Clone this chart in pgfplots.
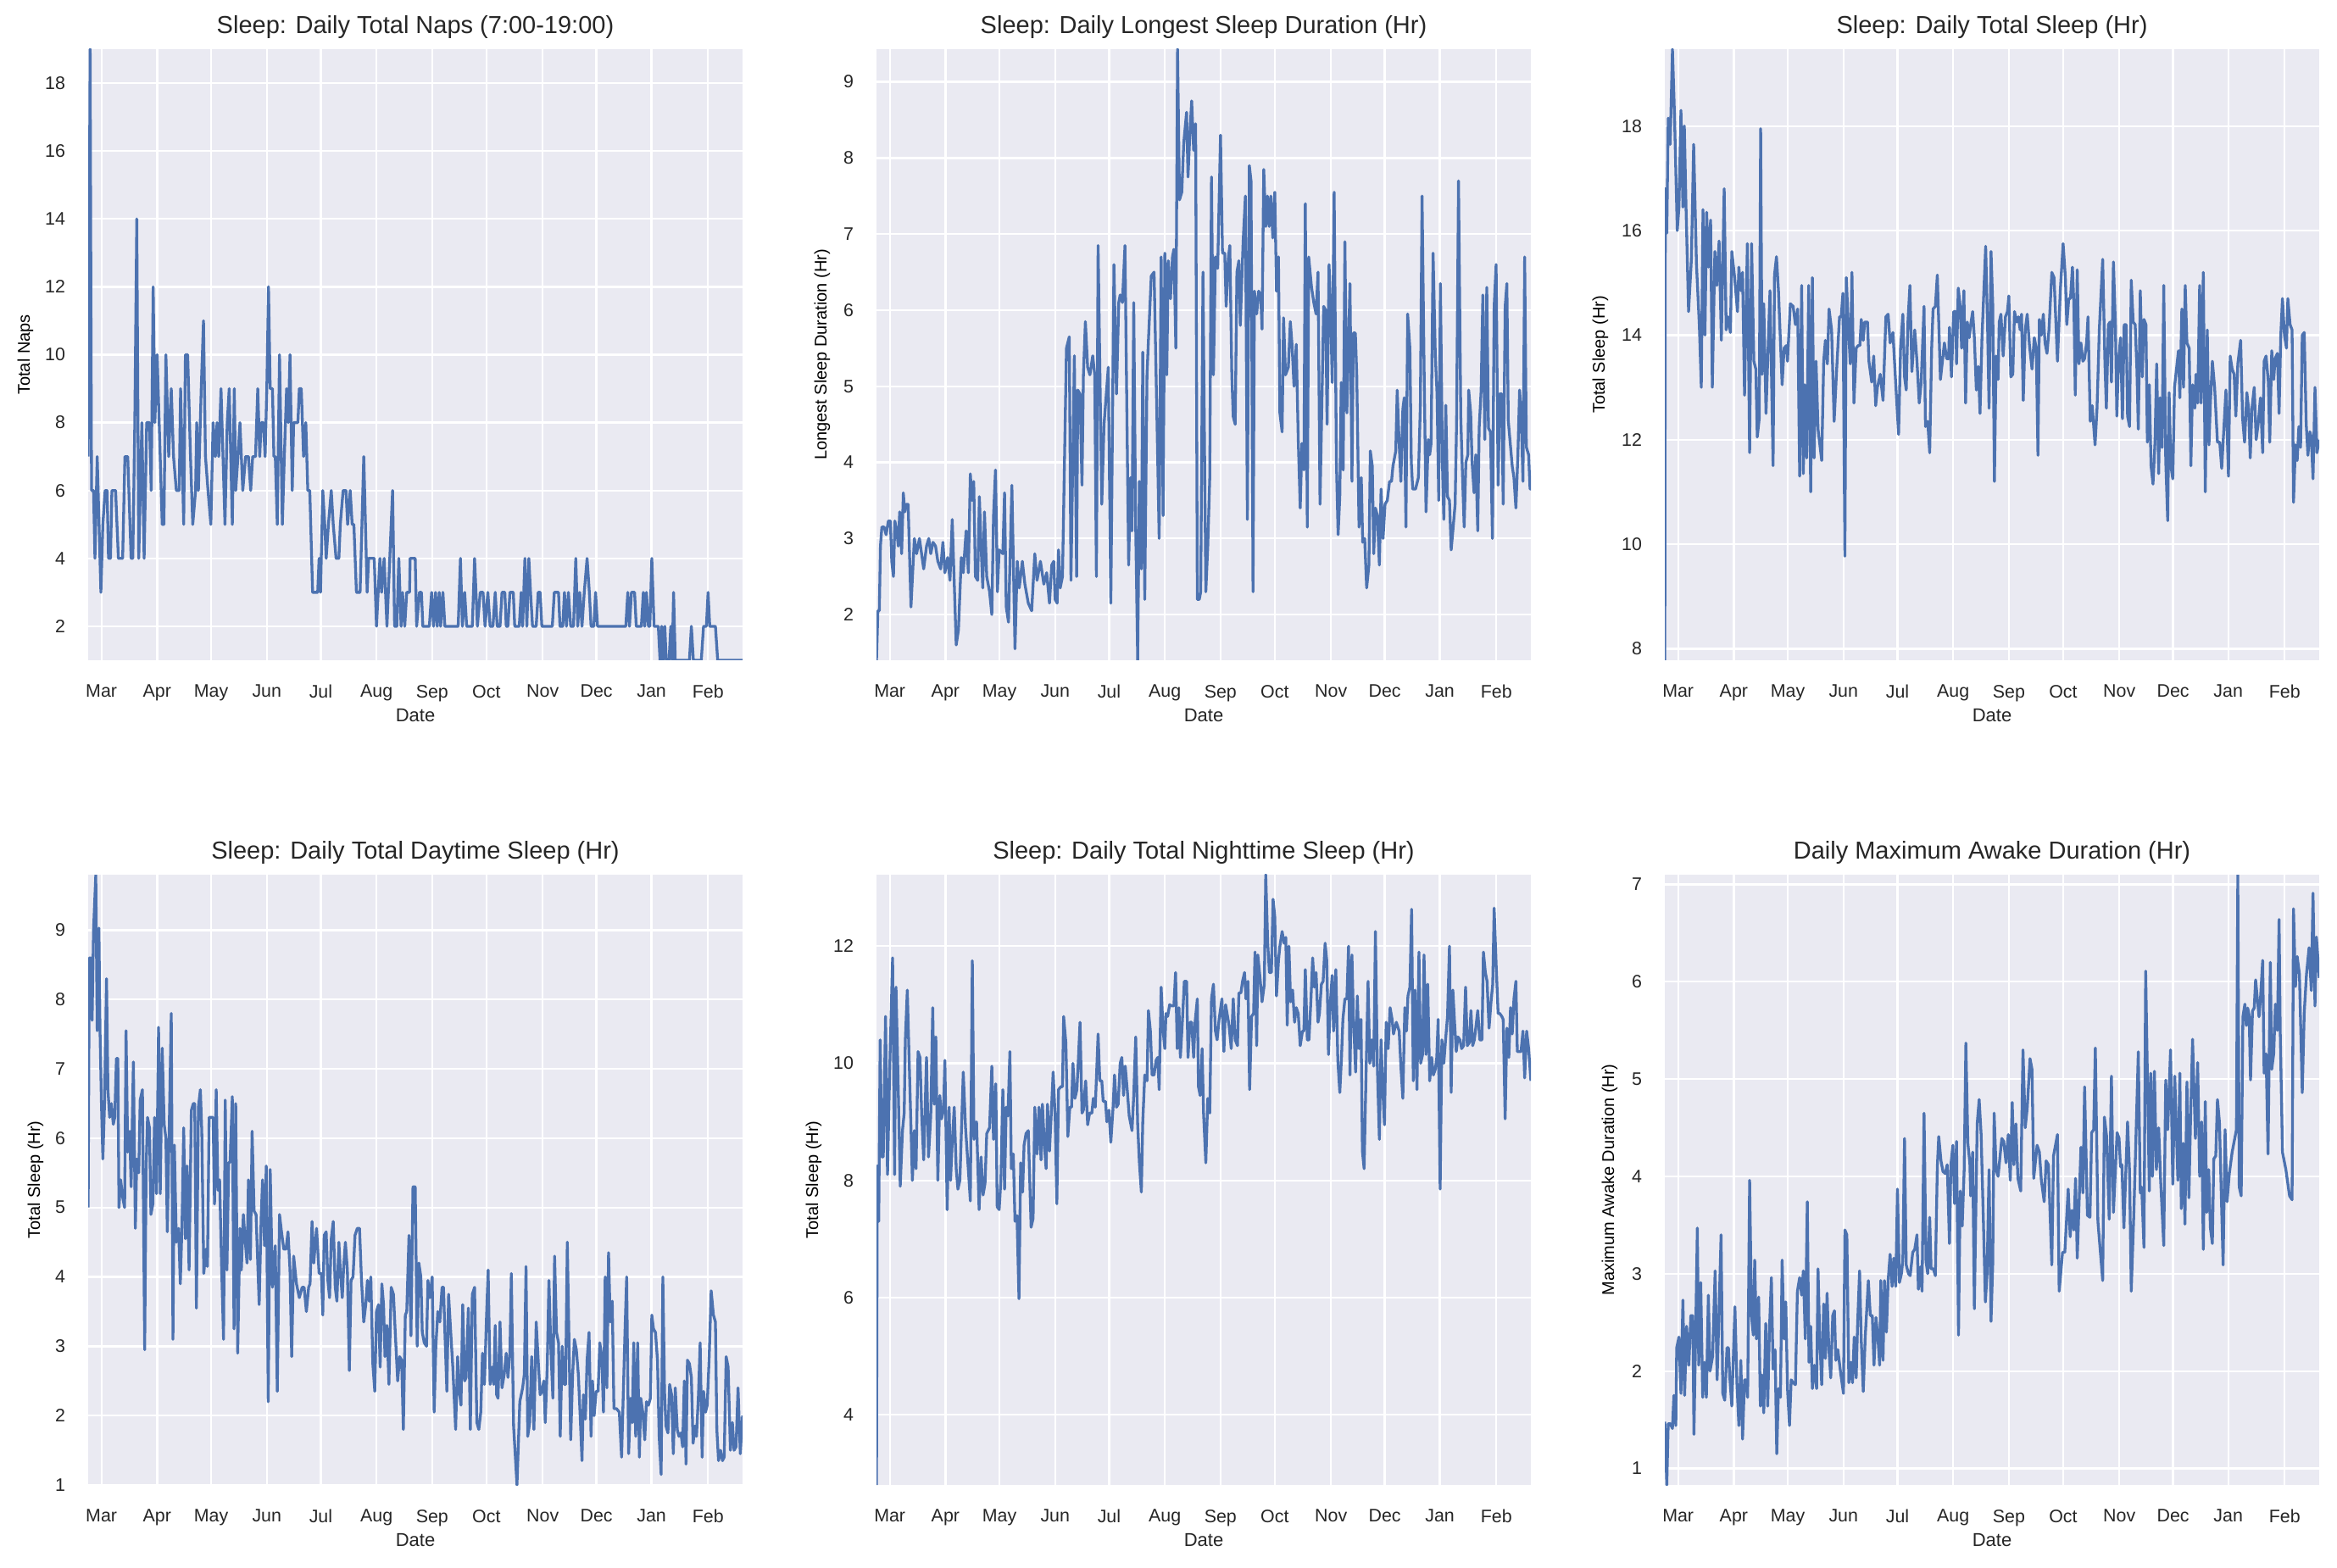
\documentclass[border=0pt]{standalone}
\usepackage{fontspec}
\setmainfont{Liberation Sans}
\usepackage{pgfplots}
\pgfplotsset{compat=1.18}
\definecolor{sbbg}{HTML}{EAEAF2}
\definecolor{sbblue}{HTML}{4C72B0}
\definecolor{sbtext}{HTML}{262626}
\tikzset{sbline/.style={draw=sbblue, line width=1.65pt, line join=round, mark=none}}
\pgfplotsset{
  yl/.style={every axis y label/.style={at={(axis description cs:0,0.5)}, xshift=-#1, rotate=90, anchor=center}},
  sb/.style={
    every axis title/.style={at={(axis description cs:0.5,1)}, yshift=13pt, anchor=center},
    every axis x label/.style={at={(axis description cs:0.5,0)}, yshift=-32.5pt, anchor=center},
    scale only axis, width=386pt, height=360.5pt,
    axis background/.style={fill=sbbg},
    axis line style={draw=none},
    major tick length=0pt,
    grid=major,
    major grid style={white, line width=1.15pt},
    xmin=28, xmax=2343,
    xtick={75,272,463,660,851,1048,1245,1437,1636,1826,2021,2221},
    xticklabels={Mar,Apr,May,Jun,Jul,Aug,Sep,Oct,Nov,Dec,Jan,Feb},
    /pgf/number format/assume math mode=true,
    tick label style={font=\fontsize{10.7}{12}\selectfont, text=sbtext},
    xticklabel style={yshift=-11pt},
    yticklabel style={xshift=-10pt},
    label style={font=\fontsize{11}{13}\selectfont, text=sbtext},
    title style={font=\fontsize{14.5}{17}\selectfont, text=sbtext},
    xlabel=Date,
  },
}
\begin{document}
\begin{tikzpicture}
% ---------------- Panel 1 ----------------
\begin{axis}[sb, at={(52pt,535pt)}, anchor=south west, ymin=1, ymax=19, ytick={2,4,...,18},
  title={Sleep: Daily Total Naps (7:00-19:00)}, ylabel={Total Naps}, yl=37pt]
\addplot[sbline] coordinates {(28,7)(35,19)(40,6)(47,6)(52,4)(60,7)(73,3)(80,5)(88,6)(95,6)(100,4)(107,4)(112,6)(125,6)(135,4)(150,4)(158,7)(168,7)(180,4)(186,4)(193,8)(200,14)(207,4)(218,8)(226,4)(235,8)(245,8)(251,6)(258,12)(264,8)(272,10)(290,5)(296,5)(303,10)(313,7)(322,9)(330,7)(340,6)(350,6)(355,9)(366,5)(372,10)(380,10)(390,7)(398,5)(408,6)(412,8)(418,6)(428,9)(436,11)(443,7)(452,6)(462,5)(470,8)(478,7)(484,8)(490,7)(498,9)(512,5)(520,8)(527,9)(538,5)(545,9)(550,6)(558,7)(565,8)(575,6)(585,7)(595,7)(603,6)(610,7)(620,7)(628,9)(635,7)(640,8)(648,8)(654,7)(660,9)(666,12)(672,9)(680,9)(685,7)(690,7)(697,5)(705,10)(715,5)(722,7)(730,9)(736,8)(742,10)(750,6)(755,8)(770,8)(775,9)(782,9)(790,7)(798,8)(805,6)(812,6)(822,3)(840,3)(845,4)(850,3)(858,6)(865,5)(870,4)(878,5)(888,6)(895,5)(905,4)(915,4)(920,5)(930,6)(940,6)(946,5)(955,6)(962,5)(968,5)(977,3)(990,3)(1003,7)(1015,3)(1020,4)(1040,4)(1048,2)(1060,4)(1066,3)(1075,4)(1085,2)(1105,6)(1112,2)(1120,2)(1127,4)(1135,2)(1140,3)(1148,2)
(1155,3)(1165,3)(1167,4)(1185,4)(1190,2)(1200,3)(1207,3)(1212,2)(1235,2)(1243,3)(1250,2)(1257,3)(1263,2)(1270,3)(1275,2)(1283,3)(1290,2)(1337,2)(1345,4)(1352,2)(1360,3)(1367,2)(1387,2)(1395,4)(1405,2)(1415,3)(1425,3)(1432,2)(1442,3)(1450,2)(1460,2)(1468,3)(1475,2)(1485,2)(1492,3)(1502,3)(1507,2)(1513,2)(1520,3)(1532,3)(1537,2)(1553,2)(1560,3)(1565,2)(1573,4)(1580,2)(1587,4)(1593,3)(1600,2)(1613,2)(1620,3)(1627,3)(1633,2)(1670,2)(1677,3)(1692,3)(1697,2)(1707,2)(1713,3)(1720,2)(1727,3)(1735,2)(1745,2)(1753,4)(1760,2)(1767,3)(1775,2)(1783,3)(1793,4)(1801,3)(1807,2)(1817,2)(1823,3)(1830,2)(1930,2)(1937,3)(1943,2)(1950,3)(1961,3)(1967,2)(1985,2)(1992,3)(1997,2)(2003,3)(2010,2)(2015,2)(2022,4)(2030,2)(2045,2)(2051,1)(2057,2)(2062,1)(2068,2)(2073,1)(2083,1)(2089,2)(2094,1)(2099,3)(2105,1)(2155,1)(2162,2)(2169,1)(2197,1)(2205,2)(2215,2)(2221,3)(2227,2)(2247,2)(2255,1)(2343,1)};
\end{axis}
% ---------------- Panel 2 ----------------
\begin{axis}[sb, at={(517pt,535pt)}, anchor=south west, ymin=1.4, ymax=9.43, ytick={2,3,...,9},
  title={Sleep: Daily Longest Sleep Duration (Hr)}, ylabel={Longest Sleep Duration (Hr)}, yl=32pt]
\addplot[sbline] coordinates {(28,1.4)(33,2.05)(38,2.05)(42,2.9)(47,3.15)(55,3.15)(62,3.05)(70,3.23)(77,3.23)(82,2.7)(88,2.5)(93,3.23)(100,3.1)(105,2.9)(110,3.35)(117,2.8)(123,3.6)(128,3.35)(133,3.45)(140,3.45)(150,2.1)(162,3.0)(170,2.8)(180,3.0)(195,2.6)(205,2.9)(213,3.0)(220,2.8)(228,2.95)(237,2.9)(245,2.7)(255,2.6)(263,2.95)(270,2.55)(280,2.75)(288,2.45)(296,3.25)(310,1.6)(318,1.8)(328,2.75)(335,2.55)(345,3.1)(353,2.55)(360,3.85)(366,3.5)(372,3.75)(378,2.5)(386,2.45)(392,3.55)(398,2.9)(404,2.35)(410,3.35)(418,2.5)(428,2.3)(436,2.0)(442,3.3)(449,3.9)(456,2.3)(462,2.85)(475,2.8)(481,3.6)(487,2.1)(495,1.9)(507,3.7)(518,1.55)(526,2.7)(533,2.35)(544,2.7)(553,2.4)(565,2.15)(577,2.05)(588,2.8)(596,2.45)(608,2.7)(620,2.4)(630,2.55)(640,2.15)(648,2.65)(655,2.7)(660,2.2)(667,2.15)(672,2.85)(678,2.35)(686,2.5)(700,5.5)(710,5.65)(716,2.45)(728,5.4)(736,2.5)(740,4.95)(748,4.9)(755,3.7)(760,5.15)(767,5.85)(775,5.25)(783,5.15)(793,5.4)(800,5.15)(806,2.5)(812,6.85)(825,3.45)(833,4.5)(848,5.25)(857,2.15)(868,6.6)(877,4.9)(885,6.1)(890,6.2)(898,6.1)(907,6.85)(920,2.65)(927,3.8)(932,3.1)(938,6.1)(945,3.15)(952,1.4)(958,3.75)(965,2.6)(970,5.45)(977,2.2)(985,5.15)(990,5.6)(1000,6.45)(1010,6.5)(1020,4.6)(1028,3.0)(1035,6.7)(1042,3.3)(1048,6.75)(1055,5.15)(1060,6.65)(1068,6.15)(1075,6.7)(1080,6.8)(1087,5.5)(1093,9.43)(1100,7.45)(1108,7.55)(1115,8.2)(1125,8.6)(1130,7.75)(1137,8.35)(1143,8.75)(1150,8.1)
(1157,8.45)(1163,2.2)(1170,2.2)(1175,2.3)(1183,6.5)(1193,2.3)(1200,2.9)(1207,3.8)(1213,7.75)(1220,5.15)(1227,6.7)(1235,6.55)(1245,8.3)(1252,6.75)(1260,6.75)(1265,6.05)(1273,6.7)(1278,6.85)(1285,5.15)(1290,4.6)(1297,4.5)(1303,6.5)(1310,6.65)(1315,5.8)(1325,6.9)(1333,7.5)(1340,3.25)(1347,7.9)(1353,7.7)(1360,2.3)(1365,6.25)(1373,5.95)(1380,6.25)(1387,6.2)(1392,5.75)(1398,7.85)(1405,7.1)(1411,7.5)(1417,7.1)(1423,7.5)(1430,6.95)(1437,7.55)(1443,6.25)(1450,6.7)(1455,4.65)(1463,4.4)(1468,5.9)(1475,5.15)(1485,5.25)(1492,5.85)(1498,5.55)(1505,5.0)(1513,5.55)(1520,4.3)(1527,3.4)(1533,4.25)(1540,3.9)(1545,7.4)(1552,3.15)(1557,6.7)(1567,6.3)(1575,6.1)(1583,5.95)(1590,6.5)(1597,3.45)(1610,6.05)(1617,6.0)(1622,4.5)(1629,6.6)(1635,5.95)(1640,5.05)(1647,7.55)(1655,4.0)(1661,3.05)(1667,3.55)(1672,5.05)(1679,3.9)(1685,6.9)(1692,4.65)(1697,5.4)(1703,6.35)(1710,3.75)(1715,5.7)(1722,5.7)(1727,5.15)(1735,3.15)(1743,3.8)(1748,2.95)(1755,3.0)(1762,2.35)(1770,2.65)(1775,4.15)(1782,3.95)(1787,2.8)(1793,3.4)(1800,3.3)(1807,2.65)(1813,3.65)(1820,3.0)(1827,3.45)(1835,3.5)(1843,3.75)(1850,3.75)(1855,3.95)(1865,4.15)(1870,4.95)(1877,4.25)(1883,3.75)(1890,4.7)(1895,4.85)(1901,3.15)(1907,5.95)(1915,5.5)(1920,4.0)(1925,3.65)(1935,3.65)(1945,3.8)(1952,4.75)(1958,7.5)(1965,5.3)(1972,3.35)(1980,4.3)(1985,4.1)(1990,4.25)(1997,6.75)(2005,5.4)(2011,4.9)(2017,3.5)(2023,6.35)(2030,4.0)(2035,3.25)(2042,4.75)(2048,3.55)(2055,3.5)(2061,2.85)(2067,3.1)(2075,3.45)(2080,4.5)(2087,7.7)(2095,4.6)(2100,3.95)(2107,3.15)(2113,4.0)(2120,4.1)(2123,4.95)(2130,4.65)(2135,4.0)(2142,3.6)(2148,4.1)(2155,3.1)(2160,4.45)(2167,4.95)(2173,6.2)(2180,4.3)(2187,6.3)(2193,4.45)(2200,4.4)(2207,3.0)(2213,6.05)(2220,6.6)(2227,3.7)(2233,4.9)(2240,4.9)(2245,3.45)(2252,6.05)(2258,6.35)(2263,4.55)(2270,4.25)(2277,3.95)(2283,3.8)(2290,3.4)(2297,4.1)(2303,4.95)(2308,4.7)(2315,3.75)(2321,6.7)(2327,4.2)(2335,4.1)(2340,3.65)(2343,3.65)};
\end{axis}
% ---------------- Panel 3 ----------------
\begin{axis}[sb, at={(982pt,535pt)}, anchor=south west, ymin=7.78, ymax=19.47, ytick={8,10,...,18},
  title={Sleep: Daily Total Sleep (Hr)}, ylabel={Total Sleep (Hr)}, yl=38pt]
\addplot[sbline] coordinates {(28,7.78)(30,16.8)(35,15.95)(40,18.15)(47,17.65)(55,19.47)(62,18.25)(72,16.0)(78,16.45)(85,18.3)(92,16.45)(97,18.0)(103,16.45)(112,14.45)(122,15.45)(130,17.65)(140,15.35)(150,14.2)(157,13.0)(163,16.4)(170,14.0)(176,16.35)(182,15.3)(190,16.2)(196,13.0)(205,15.6)(212,14.95)(220,15.8)(228,13.9)(238,16.8)(245,14.1)(252,14.35)(260,14.05)(265,15.6)(275,15.1)(285,14.45)(290,15.3)(297,14.85)(303,15.2)(310,12.85)(320,15.75)(328,11.75)(335,15.75)(343,13.5)(350,13.35)(355,12.05)(362,12.4)(367,17.95)(372,13.25)(378,14.6)(386,12.5)(393,13.7)(400,14.85)(405,13.35)(411,11.5)(416,15.15)(423,15.5)(430,14.85)(443,13.05)(450,13.75)(458,13.8)(462,13.5)(472,14.6)(482,14.55)(490,14.2)(498,14.5)(505,11.3)(512,14.95)(518,11.35)(523,13.05)(530,11.65)(537,14.95)(544,11.0)(550,15.1)(556,11.65)(563,13.5)(570,12.2)(583,11.6)(590,13.5)(596,13.9)(603,13.45)(609,14.5)(618,14.1)(627,12.35)(636,13.35)(646,14.35)(652,14.35)(658,14.8)(665,9.77)(670,15.1)(677,14.2)(684,13.45)(690,15.2)(697,12.7)(705,13.75)(712,13.8)(718,13.8)(723,14.3)(730,13.9)(735,14.25)(745,14.25)(750,13.5)(760,13.1)(767,13.6)(774,12.65)(780,13.0)(790,13.25)(800,12.75)(810,14.35)(818,14.4)(825,13.85)(835,14.05)(845,13.05)(855,12.1)(862,13.75)(870,14.4)(876,13.2)(882,12.95)(888,14.25)(895,14.95)(902,13.3)(912,14.1)(920,13.5)(928,12.7)(935,13.1)(945,14.55)(950,12.25)(958,12.35)(965,11.75)(972,13.75)(977,14.5)(985,14.55)(992,15.15)(1003,13.15)(1010,13.5)(1017,13.85)(1025,13.55)(1032,13.55)(1035,14.15)(1042,13.2)(1050,14.45)(1057,14.45)(1060,13.45)(1066,14.9)(1073,14.55)(1078,13.75)(1086,14.85)(1092,12.7)(1098,14.25)(1105,13.95)(1110,14.2)(1117,14.45)(1123,13.95)(1130,12.95)(1137,13.4)(1143,12.5)(1150,13.95)
(1163,15.7)(1170,14.1)(1175,12.6)(1182,15.6)(1188,14.6)(1194,11.2)(1200,13.6)(1207,13.15)(1211,14.25)(1217,14.4)(1225,13.6)(1233,14.35)(1240,14.45)(1245,14.75)(1252,13.2)(1259,13.25)(1265,14.45)(1273,14.25)(1279,14.35)(1285,14.1)(1290,14.4)(1296,12.75)(1303,14.1)(1310,14.4)(1318,13.8)(1327,13.35)(1335,13.95)(1342,13.75)(1348,11.7)(1353,14.3)(1360,14.0)(1367,14.4)(1373,13.85)(1380,13.65)(1387,14.1)(1397,15.2)(1405,15.1)(1417,13.5)(1427,14.85)(1437,15.75)(1445,15.1)(1450,14.2)(1457,14.7)(1463,14.7)(1470,15.3)(1475,14.6)(1480,12.85)(1487,15.25)(1493,13.45)(1500,13.85)(1507,13.5)(1513,13.55)(1520,13.85)(1525,14.35)(1533,12.35)(1540,12.65)(1550,11.9)(1557,12.6)(1565,14.1)(1577,15.45)(1585,13.45)(1590,12.6)(1597,14.2)(1603,14.25)(1608,13.1)(1615,15.4)(1622,14.2)(1627,12.45)(1633,13.5)(1640,13.95)(1647,12.4)(1653,14.2)(1660,14.2)(1665,12.45)(1672,12.25)(1678,15.05)(1685,14.25)(1692,14.2)(1698,13.35)(1703,12.2)(1710,14.85)(1717,13.2)(1723,14.3)(1730,14.2)(1735,11.95)(1742,13.05)(1748,11.5)(1755,11.15)(1762,11.95)(1768,13.45)(1775,11.35)(1780,12.8)(1787,11.85)(1793,14.95)(1800,11.6)(1807,10.45)(1812,12.9)(1818,11.5)(1825,11.25)(1831,13.0)(1838,13.35)(1845,13.7)(1850,12.8)(1857,14.5)(1863,13.0)(1869,14.95)(1875,13.85)(1883,13.75)(1889,11.5)(1895,13.05)(1903,12.6)(1907,13.25)(1913,12.7)(1920,14.95)(1925,12.7)(1933,15.2)(1940,11.0)(1947,14.1)(1953,11.9)(1958,12.7)(1965,13.5)(1973,13.0)(1983,11.95)(1991,11.95)(1998,11.45)(2005,12.15)(2013,12.95)(2022,11.3)(2028,13.6)(2035,13.35)(2042,13.25)(2048,12.45)(2055,13.45)(2065,13.9)(2072,12.4)(2079,11.95)(2087,12.9)(2093,12.6)(2099,11.65)(2105,12.6)(2113,13.0)(2120,12.0)(2127,12.3)(2135,12.8)(2143,11.75)(2148,13.5)(2155,13.6)(2163,13.1)(2168,11.95)(2175,13.7)(2182,13.15)(2187,13.55)(2195,13.65)(2201,12.5)(2207,14.0)(2213,14.7)(2220,14.0)(2227,13.75)(2232,14.7)(2240,14.2)(2247,14.1)(2252,10.8)(2259,11.9)(2265,11.6)(2271,12.25)(2277,11.85)(2283,14.0)(2290,14.05)(2297,12.3)(2303,11.7)(2310,12.15)(2315,12.05)(2321,11.25)(2328,13.0)(2335,11.75)(2343,12.0)};
\end{axis}
% ---------------- Panel 4 ----------------
\begin{axis}[sb, height=360pt, at={(52pt,48.5pt)}, anchor=south west, ymin=1, ymax=9.8, ytick={1,2,...,9},
  title={Sleep: Daily Total Daytime Sleep (Hr)}, ylabel={Total Sleep (Hr)}, yl=31pt]
\addplot[sbline] coordinates {(28,5.0)(32,8.6)(38,8.6)(42,7.7)(47,9.0)(55,9.8)(60,7.55)(66,9.03)(70,7.55)(75,6.5)(80,5.7)(86,6.5)(93,8.3)(98,6.7)(104,6.3)(110,6.5)(117,6.2)(122,6.3)(128,7.15)(133,7.15)(137,5.0)(143,5.4)(150,5.15)(157,5.0)(162,7.55)(168,5.8)(175,6.1)(180,5.3)(188,7.1)(195,4.7)(200,5.7)(207,5.5)(212,6.55)(220,6.7)(228,2.95)(233,5.55)(238,6.3)(245,6.15)(250,4.9)(257,5.05)(263,6.3)(270,5.2)(277,7.6)(283,5.2)(290,7.3)(297,6.2)(303,6.0)(308,4.65)(315,6.2)(322,7.8)(328,3.1)(333,5.9)(340,4.5)(348,4.7)(354,3.9)(360,4.75)(366,6.15)(372,4.55)(378,5.6)(385,4.1)(393,6.4)(400,6.5)(405,6.5)(411,3.55)(418,6.45)(425,6.7)(430,6.1)(437,4.05)(445,4.4)(450,4.15)(456,6.3)(463,6.3)(470,6.3)(475,5.05)(481,6.7)(487,5.25)(493,5.4)(500,4.15)(507,3.1)(513,6.55)(519,4.1)(525,5.65)(530,5.65)(538,6.6)(544,3.25)(550,6.5)(557,2.9)(565,4.7)(570,4.1)(577,4.9)(583,4.55)(590,4.2)(595,5.4)(602,4.25)(608,6.1)(615,4.95)(622,4.9)(633,3.6)(640,4.85)(645,5.4)(652,4.45)(658,5.6)(665,2.2)(672,5.55)(680,3.85)(690,4.45)(697,2.35)(705,4.9)(712,4.65)(720,4.4)(728,4.4)(735,4.65)(742,4.1)(748,2.85)(755,4.3)(765,3.9)(775,3.7)(785,3.85)(792,3.85)(800,3.5)(808,3.85)(813,3.9)(820,4.8)(826,4.2)(836,4.7)(845,4.05)(853,4.05)(858,3.45)(863,4.6)(870,4.65)(876,3.95)(882,3.7)(888,4.55)(895,4.8)(902,3.85)(908,3.65)(915,4.5)(920,4.1)(927,3.7)(932,4.15)(938,4.5)(945,4.1)(952,2.65)(958,3.95)(965,4.0)(972,4.6)(980,4.7)(988,4.7)(995,3.95)(1003,3.35)(1010,3.6)(1016,3.95)(1022,3.65)(1028,4.0)(1035,2.75)(1042,2.35)(1048,3.5)(1055,3.6)(1061,2.7)(1067,3.9)(1073,3.6)(1078,2.85)(1085,3.3)(1092,2.45)(1100,3.85)(1108,3.75)(1115,3.15)(1123,2.5)(1130,2.85)(1137,2.8)(1143,1.8)(1150,3.45)
(1155,3.5)(1163,4.6)(1170,3.15)(1177,5.3)(1185,5.3)(1192,3.0)(1198,4.2)(1205,4.0)(1210,3.2)(1217,3.05)(1225,3.0)(1230,3.95)(1237,3.7)(1245,4.0)(1252,2.05)(1258,3.0)(1265,3.5)(1272,3.35)(1280,3.85)(1285,3.85)(1290,3.2)(1297,2.35)(1303,3.75)(1310,3.25)(1318,2.7)(1328,1.8)(1335,2.85)(1341,2.35)(1347,2.15)(1353,3.6)(1360,2.5)(1365,2.55)(1373,3.55)(1380,1.8)(1387,3.75)(1395,3.85)(1403,1.9)(1410,1.8)(1417,2.05)(1423,2.9)(1430,2.45)(1437,3.4)(1443,4.1)(1450,2.45)(1457,2.7)(1463,2.45)(1468,3.3)(1473,2.3)(1478,2.25)(1485,3.35)(1492,2.4)(1500,2.6)(1507,2.9)(1513,2.55)(1520,2.9)(1525,4.05)(1533,1.85)(1540,1.35)(1545,1.0)(1555,2.2)(1565,2.4)(1571,2.6)(1577,4.15)(1583,1.7)(1590,1.9)(1597,2.85)(1605,1.8)(1613,3.35)(1620,2.8)(1627,2.3)(1633,2.35)(1640,2.5)(1645,1.9)(1652,2.7)(1658,3.95)(1665,2.95)(1672,2.25)(1678,4.3)(1685,3.2)(1692,3.05)(1698,1.7)(1705,3.0)(1712,2.45)(1717,2.45)(1723,4.5)(1730,2.85)(1735,1.65)(1742,2.6)(1748,3.1)(1755,2.95)(1762,2.6)(1768,2.05)(1775,1.35)(1780,2.3)(1787,1.95)(1793,2.8)(1800,3.2)(1807,1.7)(1812,2.5)(1818,2.0)(1825,2.35)(1832,2.35)(1838,3.05)(1845,2.85)(1851,2.05)(1857,4.0)(1863,2.4)(1869,4.35)(1875,3.35)(1882,3.65)(1888,2.1)(1897,2.1)(1907,2.05)(1915,1.4)(1920,2.15)(1927,3.2)(1933,4.0)(1940,1.45)(1947,2.25)(1953,1.9)(1958,3.05)(1965,1.7)(1972,3.05)(1978,1.4)(1983,2.25)(1990,2.05)(1997,1.65)(2003,2.2)(2010,2.15)(2017,2.25)(2022,3.45)(2028,3.25)(2035,3.2)(2042,2.8)(2048,1.7)(2055,1.15)(2061,4.0)(2067,2.35)(2072,1.85)(2079,1.75)(2085,2.45)(2092,2.3)(2098,1.45)(2105,2.4)(2112,1.8)(2118,1.7)(2125,1.75)(2131,1.55)(2137,2.5)(2143,1.3)(2148,2.8)(2155,2.75)(2162,2.55)(2168,1.6)(2175,1.85)(2180,1.7)(2187,2.3)(2193,3.05)(2200,1.4)(2205,2.35)(2212,2.05)(2218,2.15)(2225,2.85)(2232,3.8)(2240,3.45)(2247,3.35)(2252,1.8)(2258,1.35)(2265,1.5)(2272,1.35)(2278,1.4)(2285,2.85)(2292,2.7)(2300,1.5)(2307,1.9)(2313,1.5)(2320,1.55)(2327,2.4)(2335,1.45)(2343,2.0)};
\end{axis}
% ---------------- Panel 5 ----------------
\begin{axis}[sb, height=360pt, at={(517pt,48.5pt)}, anchor=south west, ymin=2.8, ymax=13.22, ytick={4,6,...,12},
  title={Sleep: Daily Total Nighttime Sleep (Hr)}, ylabel={Total Sleep (Hr)}, yl=37pt]
\addplot[sbline] coordinates {(28,2.8)(31,8.25)(36,7.3)(41,10.4)(47,8.4)(52,8.4)(60,10.8)(67,8.1)(75,9.95)(85,11.8)(92,8.1)(97,11.3)(104,9.8)(112,7.9)(120,8.85)(126,9.15)(130,10.4)(137,11.25)(145,9.8)(155,8.0)(162,8.85)(168,8.2)(175,10.2)(182,10.1)(188,9.1)(195,8.35)(205,10.1)(212,8.4)(220,9.1)(227,10.95)(232,9.3)(238,10.45)(245,8.0)(252,9.45)(258,9.05)(265,9.2)(270,10.05)(278,7.5)(285,9.25)(290,8.0)(296,8.65)(303,9.25)(310,8.2)(316,7.85)(323,8.0)(335,9.85)(343,8.9)(352,8.25)(360,7.65)(367,11.75)(373,8.7)(382,9.0)(391,7.5)(398,8.4)(405,7.75)(412,7.95)(418,8.8)(428,8.9)(436,9.95)(442,8.7)(450,9.65)(455,7.55)(462,7.5)(468,8.0)(475,9.55)(481,7.85)(487,9.25)(493,9.1)(500,10.2)(505,8.2)(512,8.45)(518,7.3)(525,7.4)(532,5.98)(538,8.3)(545,7.8)(550,8.6)(557,8.8)(565,8.85)(575,7.2)(582,7.35)(588,9.25)(596,8.45)(603,9.25)(610,8.35)(615,9.3)(622,8.6)(628,8.2)(633,9.3)(640,8.5)(646,9.1)(653,9.85)(660,9.1)(666,7.6)(672,9.55)(680,9.6)(686,9.6)(690,10.8)(698,10.35)(705,8.75)(712,9.25)(718,9.25)(723,10.0)(730,9.4)(737,9.55)(742,10.05)(748,10.7)(755,9.15)(760,9.2)(768,9.7)(775,8.95)(782,9.15)(790,9.15)(795,9.4)(802,9.25)(812,10.5)(818,9.7)(825,9.7)(830,9.35)(838,9.35)(843,9.0)(850,9.2)(857,8.65)(865,9.25)(870,9.8)(877,9.25)(883,9.3)(890,10.0)(896,10.1)(902,9.45)(908,9.95)(915,9.55)(922,9.1)(932,8.85)(938,9.45)(945,10.45)(952,8.95)(958,8.3)(965,7.8)(970,9.0)(977,9.8)(985,9.7)(990,10.9)(997,10.55)(1003,9.8)(1010,9.8)(1017,10.05)(1023,10.1)(1028,9.55)(1035,11.3)(1042,10.55)(1048,10.25)(1052,10.85)(1058,10.8)(1065,11.0)(1073,10.98)(1080,10.98)(1086,11.55)(1092,10.25)(1098,10.95)(1103,10.1)(1110,10.7)(1117,11.4)(1125,11.4)(1130,10.1)(1137,10.7)(1143,10.7)(1150,10.1)
(1155,10.7)(1163,11.1)(1167,9.6)(1173,9.45)(1180,10.25)(1185,9.15)(1193,8.3)(1200,9.4)(1207,9.15)(1213,11.1)(1220,11.35)(1227,10.55)(1233,10.4)(1240,10.75)(1250,11.1)(1257,10.2)(1263,11.0)(1270,10.8)(1275,10.65)(1283,10.25)(1290,11.1)(1297,10.4)(1305,10.3)(1310,11.2)(1317,11.2)(1323,11.4)(1330,11.55)(1335,11.1)(1342,11.4)(1348,9.55)(1355,10.8)(1362,10.85)(1367,11.9)(1373,10.3)(1377,11.85)(1385,11.45)(1392,11.05)(1400,11.35)(1405,13.22)(1412,12.05)(1418,11.55)(1425,11.55)(1431,12.8)(1437,12.5)(1443,11.15)(1450,11.75)(1455,12.0)(1463,12.25)(1470,12.05)(1476,12.15)(1481,10.65)(1487,12.0)(1493,11.05)(1500,11.25)(1507,10.7)(1513,10.95)(1520,10.85)(1527,10.3)(1535,10.55)(1540,10.55)(1545,11.6)(1552,10.4)(1558,10.4)(1565,11.1)(1571,11.8)(1577,11.3)(1583,11.55)(1590,10.7)(1595,10.85)(1602,11.35)(1608,11.4)(1615,12.05)(1621,11.75)(1627,10.15)(1633,11.0)(1640,11.5)(1645,10.55)(1653,11.6)(1660,10.05)(1667,9.5)(1673,10.1)(1678,10.75)(1685,11.1)(1692,11.1)(1698,12.0)(1703,9.8)(1710,11.85)(1715,10.8)(1723,9.85)(1729,11.15)(1735,10.25)(1742,10.75)(1747,8.5)(1753,8.2)(1760,9.85)(1767,11.4)(1773,10.0)(1780,10.4)(1787,9.95)(1793,12.25)(1800,9.9)(1807,8.7)(1813,10.4)(1819,9.55)(1825,8.95)(1831,10.7)(1838,10.25)(1845,10.95)(1852,10.75)(1857,10.5)(1867,10.7)(1877,10.55)(1883,9.95)(1890,9.4)(1897,10.95)(1903,10.55)(1908,11.15)(1915,11.3)(1921,12.63)(1927,9.7)(1933,11.25)(1940,9.55)(1947,11.9)(1953,10.0)(1960,10.15)(1965,11.85)(1972,10.15)(1978,11.35)(1985,9.7)(1992,10.1)(1998,9.8)(2005,9.9)(2010,10.1)(2015,10.75)(2022,7.85)(2028,10.4)(2035,10.0)(2042,10.45)(2048,10.8)(2055,12.0)(2061,9.5)(2067,11.25)(2073,10.7)(2079,10.2)(2085,10.45)(2092,10.4)(2098,10.25)(2105,10.3)(2112,11.3)(2118,10.3)(2125,10.35)(2131,10.9)(2137,10.3)(2143,10.4)(2148,10.6)(2155,10.9)(2162,10.4)(2170,10.4)(2175,11.9)(2182,11.55)(2188,11.4)(2195,10.6)(2202,11.05)(2208,11.35)(2213,12.65)(2220,11.7)(2227,10.85)(2233,10.85)(2240,10.8)(2245,10.75)(2252,9.05)(2258,10.6)(2265,10.1)(2271,10.95)(2277,10.5)(2283,11.1)(2290,11.4)(2295,10.2)(2302,10.2)(2308,10.2)(2315,10.55)(2321,9.75)(2328,10.55)(2335,10.25)(2343,9.7)};
\end{axis}
% ---------------- Panel 6 ----------------
\begin{axis}[sb, height=360pt, at={(982pt,48.5pt)}, anchor=south west, ymin=0.83, ymax=7.1, ytick={1,2,...,7},
  title={Daily Maximum Awake Duration (Hr)}, ylabel={Maximum Awake Duration (Hr)}, yl=32.5pt]
\addplot[sbline] coordinates {(28,1.48)(35,0.83)(40,1.46)(47,1.46)(55,1.41)(60,1.75)(67,1.44)(70,2.24)(78,2.35)(85,1.77)(92,2.73)(98,1.75)(105,2.46)(113,2.06)(120,2.57)(127,2.57)(131,1.35)(137,2.37)(143,3.47)(148,2.06)(155,2.91)(162,1.73)(168,2.09)(175,1.73)(182,2.78)(188,2.0)(197,2.15)(206,3.03)(213,1.91)(220,2.64)(227,3.4)(233,1.77)(240,1.7)(248,2.24)(253,2.24)(258,1.93)(265,1.64)(276,2.66)(283,1.88)(290,1.44)(297,2.11)(303,1.3)(310,1.91)(315,1.91)(321,1.73)(328,3.96)(335,2.55)(341,2.37)(346,3.14)(352,2.33)(360,2.76)(366,1.64)(372,1.96)(378,1.57)(385,2.49)(392,1.64)(398,2.42)(405,2.96)(411,2.02)(418,2.22)(424,1.15)(430,1.82)(437,1.73)(443,3.14)(450,2.33)(456,2.71)(462,1.82)(469,1.44)(475,1.91)(482,1.88)(490,1.86)(497,2.82)(505,2.96)(512,2.78)(518,3.03)(525,2.33)(532,3.74)(538,2.09)(544,2.46)(550,1.82)(557,2.06)(565,1.82)(570,3.05)(576,2.35)(583,1.86)(590,2.69)(596,2.13)(602,2.8)(608,2.24)(615,1.93)(622,2.57)(628,2.62)(633,2.11)(640,2.22)(650,1.98)(660,1.77)(665,3.45)(672,3.4)(679,1.88)(686,2.09)(692,1.88)(698,2.35)(705,1.93)(710,2.49)(717,3.03)(723,2.31)(730,1.79)(737,2.35)(748,2.93)(755,2.57)(762,2.57)(768,2.06)(775,2.55)(782,2.33)(788,2.06)(792,2.93)(800,2.11)(805,2.93)(812,2.4)(818,2.93)(825,3.2)(832,2.87)(838,3.16)(845,2.87)(851,3.87)(858,2.91)(865,3.0)(870,3.14)(876,4.39)(882,3.09)(890,3.0)(896,2.98)(905,3.22)(912,3.25)(920,3.4)(925,2.84)(932,3.07)(938,2.82)(945,4.65)(952,3.13)(958,3.0)(965,3.58)(970,3.05)(978,3.05)(985,2.98)(992,4.1)(997,4.41)(1005,4.16)(1012,4.05)(1020,4.03)(1027,4.12)(1035,3.31)(1040,4.12)(1047,4.32)(1053,3.72)(1060,4.36)(1067,2.37)(1073,3.85)(1080,3.49)(1087,4.07)(1093,5.37)(1100,4.34)(1107,4.14)(1110,3.8)(1117,4.25)(1123,2.64)(1133,4.54)(1140,4.79)(1147,4.43)
(1155,3.54)(1162,2.71)(1168,3.0)(1175,4.07)(1182,2.51)(1188,3.09)(1193,4.65)(1200,4.07)(1207,4.0)(1213,4.18)(1220,4.39)(1227,4.36)(1235,4.14)(1243,4.43)(1250,3.96)(1257,4.76)(1263,4.12)(1270,4.54)(1277,3.98)(1287,3.85)(1295,5.3)(1303,4.5)(1310,4.7)(1320,5.21)(1327,5.1)(1333,3.98)(1345,4.32)(1353,4.25)(1360,3.96)(1370,3.74)(1377,4.16)(1385,4.12)(1397,3.09)(1403,4.21)(1417,4.43)(1423,2.82)(1435,3.22)(1443,3.22)(1455,3.87)(1462,3.38)(1468,3.65)(1475,3.45)(1481,3.98)(1487,3.16)(1500,4.3)(1507,3.83)(1513,4.92)(1523,3.6)(1532,3.58)(1538,4.45)(1545,4.48)(1551,5.32)(1560,3.54)(1577,2.93)(1583,4.61)(1591,4.41)(1600,3.56)(1608,5.03)(1615,3.63)(1628,4.45)(1635,4.39)(1640,4.1)(1645,4.12)(1652,3.47)(1665,4.56)(1672,4.05)(1678,2.82)(1687,3.6)(1703,5.28)(1710,3.83)(1715,3.89)(1723,3.27)(1729,6.11)(1742,3.85)(1747,5.06)(1753,4.0)(1760,5.08)(1767,4.07)(1775,4.5)(1782,3.96)(1793,3.29)(1800,4.99)(1807,4.48)(1817,5.3)(1825,3.92)(1832,5.03)(1843,3.96)(1850,5.06)(1855,3.67)(1862,4.34)(1868,3.51)(1875,4.97)(1882,3.78)(1888,4.61)(1895,5.41)(1905,4.39)(1913,5.17)(1920,4.0)(1927,4.56)(1933,3.25)(1940,4.77)(1945,3.63)(1952,4.07)(1958,3.47)(1965,3.31)(1970,4.18)(1977,4.21)(1983,4.79)(1990,4.56)(2003,3.09)(2010,4.48)(2017,3.74)(2025,4.03)(2035,4.25)(2050,4.48)(2055,7.1)(2060,3.89)(2067,3.8)(2073,5.64)(2080,5.77)(2085,5.55)(2090,5.73)(2095,5.66)(2100,4.99)(2107,5.7)(2113,5.73)(2118,6.02)(2130,5.64)(2135,5.82)(2143,6.22)(2148,5.06)(2155,5.26)(2162,4.23)(2170,6.2)(2175,5.1)(2182,5.26)(2188,5.77)(2195,5.5)(2201,6.64)(2205,5.5)(2213,4.25)(2225,4.07)(2238,3.8)(2247,3.76)(2252,6.75)(2259,5.95)(2265,6.26)(2273,6.08)(2283,4.86)(2290,5.68)(2298,6.08)(2307,6.35)(2315,5.91)(2321,6.91)(2328,5.75)(2333,6.46)(2343,6.04)};
\end{axis}
\pgfresetboundingbox
\path[use as bounding box] (0,0) rectangle (1378.5pt,924.5pt);
\end{tikzpicture}
\end{document}
